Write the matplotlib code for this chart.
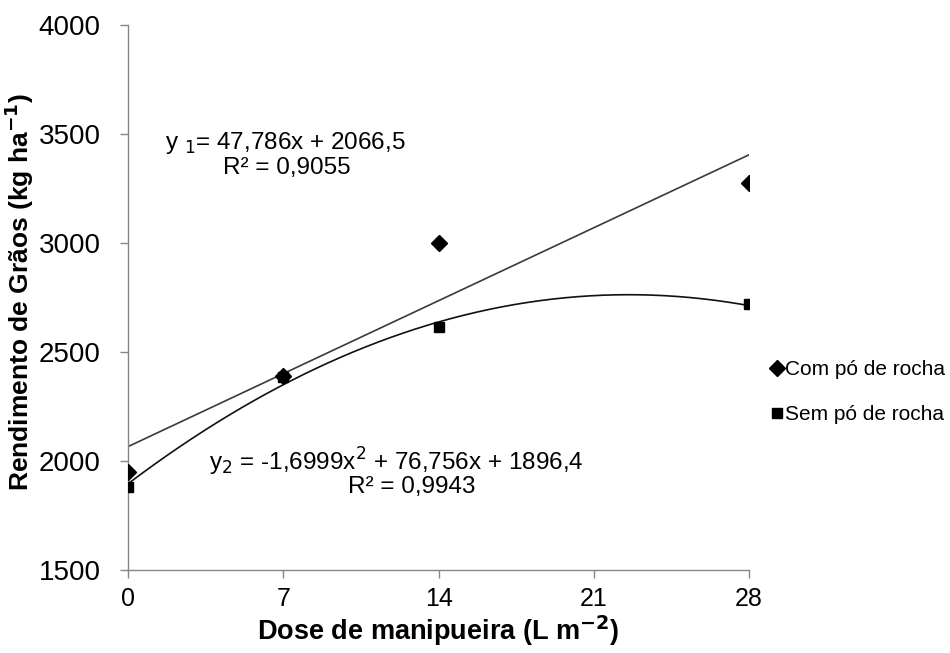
import numpy as np
import matplotlib
matplotlib.use("Agg")
import matplotlib.pyplot as plt

plt.rcParams['font.family'] = ['Liberation Sans', 'DejaVu Sans']

# Doses of manipueira (L m-2)
doses = [0, 7, 14, 28]
# Grain yield (kg ha-1)
com_po = [1950, 2390, 3000, 3275]
sem_po = [1882, 2385, 2613, 2720]

# Fitted trend equations
lin_coef = [47.786, 2066.5]            # y1 = a x + b
quad_coef = [-1.6999, 76.756, 1896.4]  # y2 = a x^2 + b x + c

x_ticks = [0, 7, 14, 21, 28]
y_ticks = [1500, 2000, 2500, 3000, 3500, 4000]

fig = plt.figure(figsize=(9.5, 6.53), dpi=100)
ax = fig.add_axes([0.135, 0.1271, 0.6534, 0.8346])

xx = np.linspace(0, 28, 200)
ax.plot(xx, np.polyval(lin_coef, xx), color='#3a3a3a', lw=1.2, zorder=2)
ax.plot(xx, np.polyval(quad_coef, xx), color='#111111', lw=1.2, zorder=2)

ax.plot(doses, com_po, linestyle='none', marker='D', ms=8, color='black',
        label='Com pó de rocha', zorder=3)
ax.plot(doses, sem_po, linestyle='none', marker='s', ms=6.5, color='black',
        label='Sem pó de rocha', zorder=3)

ax.set_xlim(0, 28)
ax.set_ylim(1500, 4000)
ax.set_xticks(x_ticks)
ax.set_yticks(y_ticks)
ax.tick_params(axis='both', direction='out', length=6, width=1,
               color='#868686')
ax.tick_params(axis='y', pad=14, labelsize=20)
ax.tick_params(axis='x', pad=6, labelsize=18)
for side in ['top', 'right']:
    ax.spines[side].set_visible(False)
for side in ['left', 'bottom']:
    ax.spines[side].set_color('#868686')
    ax.spines[side].set_linewidth(1)

ax.set_xlabel('Dose de manipueira (L m$^{\\mathbf{-2}}$)', fontsize=19.5,
              fontweight='bold', labelpad=2)
ax.set_ylabel('Rendimento de Grãos (kg ha$^{\\mathbf{-1}}$)', fontsize=19,
              fontweight='bold')
ax.yaxis.set_label_coords(-0.148, 0.51)

ax.text(7.08, 3459, 'y $_{1}$= 47,786x + 2066,5', fontsize=17.5, ha='center',
        va='center')
ax.text(7.17, 3344, 'R² = 0,9055', fontsize=17.5, ha='center', va='center')
ax.text(12.08, 1995, 'y$_{2}$ = -1,6999x$^{2}$ + 76,756x + 1896,4',
        fontsize=17.5, ha='center', va='center')
ax.text(12.8, 1880, 'R² = 0,9943', fontsize=17.5, ha='center', va='center')

fig.legend(loc='center left', bbox_to_anchor=(0.805, 0.399), frameon=False,
           fontsize=15, handlelength=0.4, handletextpad=0.15,
           labelspacing=1.25, borderaxespad=0)

fig.savefig('out.png', dpi=100)
